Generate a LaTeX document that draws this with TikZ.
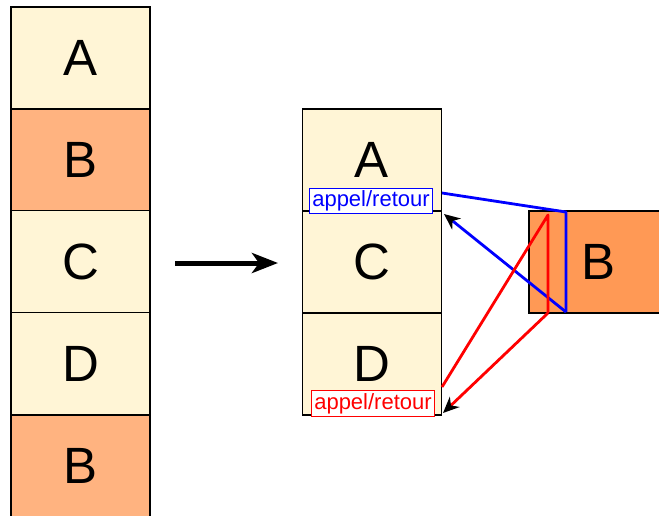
\documentclass[tikz,border=0pt]{standalone}
\usepackage{fontspec}
\setmainfont{Liberation Sans}
\usetikzlibrary{arrows.meta}
\definecolor{pale}{HTML}{FFF5D6}
\definecolor{orangeL}{HTML}{FFB380}
\definecolor{orangeD}{HTML}{FF9955}
\begin{document}
\begin{tikzpicture}[x=1pt,y=-1pt,
  cell/.style={draw=black, line width=1.8pt, minimum width=139pt, minimum height=102pt, inner sep=0pt, font=\fontsize{51}{51}\selectfont, anchor=center},
  palecell/.style={cell, fill=pale},
  bcell/.style={cell, fill=orangeL},
  bdark/.style={cell, fill=orangeD},
  lbl/.style={draw, fill=white, line width=1pt, inner xsep=3pt, inner ysep=2.5pt, font=\fontsize{22}{22}\selectfont},
  link/.style={line width=2.8pt, line join=round},
  tip/.style={-{Stealth[black, length=16pt, width=14pt, inset=5pt]}}
]
\useasboundingbox (0,0) rectangle (659,515);
\clip (0,0) rectangle (659,515);
% left stack
\node[palecell] (la) at (80.5,58) {A};
\node[bcell] (lb) at (80.5,160) {B};
\node[palecell] (lc) at (80.5,261.5) {C};
\node[palecell] (ld) at (80.5,363.5) {D};
\node[bcell] (lb2) at (80.5,466) {B};
% big arrow
\coordinate (ast) at (175,263);
\coordinate (aen) at (278,263);
\draw[line width=5pt, -{Stealth[length=26pt, width=20pt, inset=7pt]}] (ast) -- (aen);
% middle stack
\node[palecell] (ma) at (372,160) {A};
\node[palecell] (mc) at (372,262) {C};
\node[palecell] (md) at (372,364) {D};
% right B
\node[bdark] (rb) at (598.5,262) {B};
% labels
\node[lbl, draw=blue, text=blue] (lblue) at (371,201) {appel/retour};
\node[lbl, draw=red, text=red] (lred) at (373,403.5) {appel/retour};
% blue links
\coordinate (b1) at (442,193);
\coordinate (b2) at (566,212);
\coordinate (b3) at (566,312);
\coordinate (b4) at (444,214);
\draw[link, blue] (b1) -- (b2) -- (b3);
\draw[link, blue, tip] (b3) -- (b4);
% red links
\coordinate (r1) at (442,387);
\coordinate (r2) at (548,215);
\coordinate (r3) at (548,313);
\coordinate (r4) at (443,413);
\draw[link, red] (r1) -- (r2) -- (r3);
\draw[link, red, tip] (r3) -- (r4);
\end{tikzpicture}
\end{document}
